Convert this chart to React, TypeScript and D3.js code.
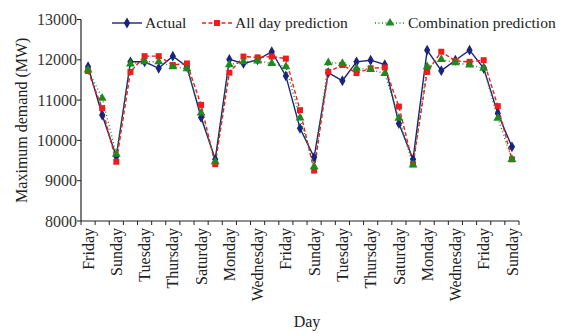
import React from 'react';
import * as d3 from 'd3';

// day of each observation (31 days, labels shown every other day)
const days = [
  'Friday', 'Saturday', 'Sunday', 'Monday', 'Tuesday', 'Wednesday', 'Thursday',
  'Friday', 'Saturday', 'Sunday', 'Monday', 'Tuesday', 'Wednesday', 'Thursday',
  'Friday', 'Saturday', 'Sunday', 'Monday', 'Tuesday', 'Wednesday', 'Thursday',
  'Friday', 'Saturday', 'Sunday', 'Monday', 'Tuesday', 'Wednesday', 'Thursday',
  'Friday', 'Saturday', 'Sunday',
];

const actual = [
  11830, 10630, 9600, 11950, 11950, 11790, 12090, 11830, 10570, 9530,
  12010, 11910, 12000, 12200, 11600, 10300, 9580, 11680, 11480, 11950,
  11990, 11880, 10420, 9530, 12240, 11730, 11990, 12240, 11790, 10670, 9840,
];

const allDay = [
  11720, 10800, 9470, 11700, 12090, 12090, 11870, 11910, 10880, 9410,
  11680, 12080, 12060, 12080, 12030, 10750, 9250, 11700, 11870, 11670,
  11790, 11810, 10840, 9410, 11700, 12200, 11970, 11950, 11990, 10850, 9530,
];

const combination = [
  11750, 11050, 9660, 11900, 11950, 11950, 11830, 11780, 10680, 9470,
  11880, 11950, 11970, 11910, 11830, 10560, 9350, 11930, 11910, 11790,
  11760, 11660, 10550, 9390, 11830, 12010, 11930, 11870, 11790, 10550, 9530,
];

const yTicks = [8000, 9000, 10000, 11000, 12000, 13000];

const FONT = '"Liberation Serif", "Times New Roman", serif';
const BLUE = '#1a237e';
const RED = '#ee1c1c';
const GREEN = '#1e8a1e';

const width = 564;
const height = 333;
const left = 81;
const right = 519;
const top = 19.5;
const bottom = 221;

const diamond = d3.symbol().type(d3.symbolDiamond).size(34)();
const square = d3.symbol().type(d3.symbolSquare).size(36)();
const triangle = d3.symbol().type(d3.symbolTriangle).size(34)();

export default function App() {
  const idx = days.map((_, i) => i);
  const x = d3.scaleBand<number>().domain(idx).range([left, right]);
  const y = d3.scaleLinear().domain([8000, 13000]).range([bottom, top]);
  const cx = (i: number) => (x(i) as number) + x.bandwidth() / 2;

  const line = d3
    .line<number>()
    .x((_, i) => cx(i))
    .y((d) => y(d));

  const series = [
    { name: 'Actual', values: actual, color: BLUE, dash: '', path: diamond, lx: 112 },
    { name: 'All day prediction', values: allDay, color: RED, dash: '4,2.5', path: square, lx: 202 },
    { name: 'Combination prediction', values: combination, color: GREEN, dash: '1,2.5', path: triangle, lx: 375 },
  ];

  const boundaries = d3.range(days.length + 1).map((i) => left + i * x.bandwidth());

  return (
    <svg width={width} height={height} style={{ position: 'absolute', left: 0, top: 0, background: '#fff' }}>
      {/* axes */}
      <line x1={left} x2={left} y1={top} y2={bottom} stroke="#222" strokeWidth={1.2} />
      <line x1={left} x2={right} y1={bottom} y2={bottom} stroke="#222" strokeWidth={1.2} />
      {yTicks.map((t) => (
        <g key={t}>
          <line x1={left - 4} x2={left} y1={y(t)} y2={y(t)} stroke="#222" />
          <text x={left - 4} y={y(t)} dy="0.35em" textAnchor="end" fontFamily={FONT} fontSize={16} fill="#333">
            {t}
          </text>
        </g>
      ))}
      {boundaries.map((b, i) => (
        <line key={i} x1={b} x2={b} y1={bottom} y2={bottom + 4} stroke="#222" />
      ))}
      {days.map((d, i) =>
        i % 2 === 0 ? (
          <text
            key={i}
            transform={`translate(${cx(i)},${bottom + 7}) rotate(-90)`}
            dy="0.35em"
            textAnchor="end"
            fontFamily={FONT}
            fontSize={16}
            fill="#222"
          >
            {d}
          </text>
        ) : null
      )}
      <text x={307} y={327} textAnchor="middle" fontFamily={FONT} fontSize={16} fill="#222">
        Day
      </text>
      <text
        transform={`translate(21,${(top + bottom) / 2}) rotate(-90)`}
        dy="0.35em"
        textAnchor="middle"
        fontFamily={FONT}
        fontSize={16}
        fill="#222"
      >
        Maximum demand (MW)
      </text>

      {/* lines */}
      {series.map((s) => (
        <path
          key={s.name}
          d={line(s.values) || ''}
          fill="none"
          stroke={s.color}
          strokeWidth={1.4}
          strokeDasharray={s.dash}
        />
      ))}
      {/* markers */}
      {series.map((s) =>
        s.values.map((v, i) => (
          <path key={s.name + i} d={s.path || ''} transform={`translate(${cx(i)},${y(v)})`} fill={s.color} />
        ))
      )}

      {/* legend */}
      {series.map((s) => (
        <g key={'lg' + s.name}>
          <line
            x1={s.lx}
            x2={s.lx + 30}
            y1={23}
            y2={23}
            stroke={s.color}
            strokeWidth={1.4}
            strokeDasharray={s.dash}
          />
          <path d={s.path || ''} transform={`translate(${s.lx + 15},23)`} fill={s.color} />
          <text x={s.lx + 33} y={23} dy="0.35em" fontFamily={FONT} fontSize={15.5} fill="#222">
            {s.name}
          </text>
        </g>
      ))}
    </svg>
  );
}
